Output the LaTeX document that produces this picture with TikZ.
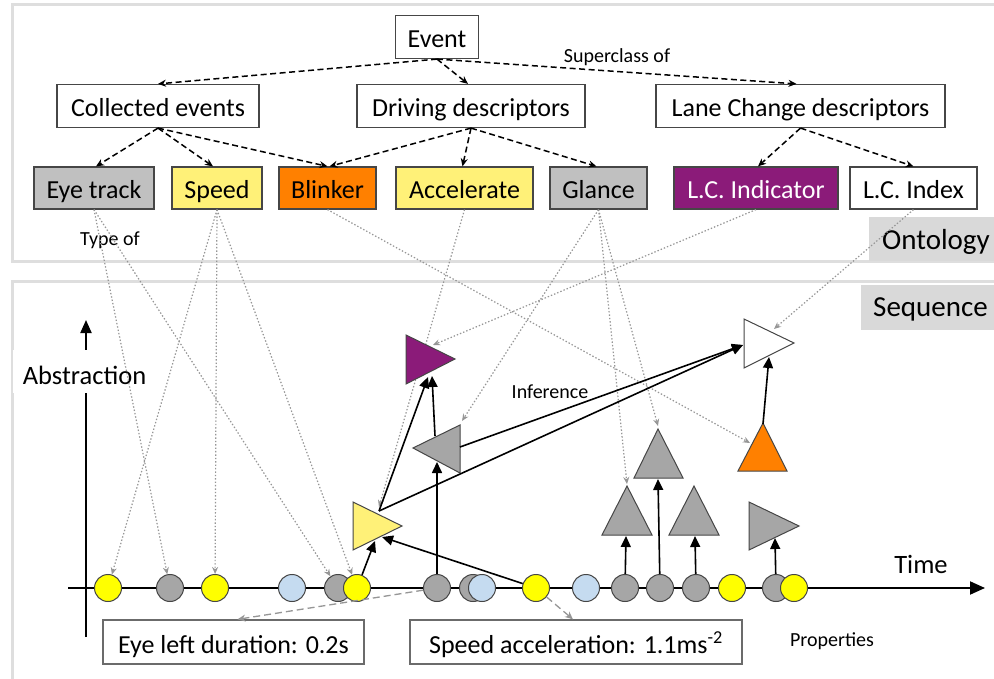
\documentclass[tikz,border=0pt]{standalone}
\usepackage{fontspec}
\setmainfont{Carlito}
\usetikzlibrary{arrows.meta}
\definecolor{boxline}{RGB}{70,70,70}
\definecolor{boxgray}{RGB}{192,192,192}
\definecolor{boxyellow}{RGB}{255,241,120}
\definecolor{myorange}{RGB}{255,128,0}
\definecolor{mypurple}{RGB}{139,27,121}
\definecolor{trigray}{RGB}{166,166,166}
\definecolor{cyellow}{RGB}{255,255,0}
\definecolor{cblue}{RGB}{197,219,240}
\definecolor{dotgray}{RGB}{150,150,150}
\definecolor{panelline}{RGB}{222,222,222}
\definecolor{labelgray}{RGB}{217,217,217}
\begin{document}
\begin{tikzpicture}[x=1pt,y=-1pt,
  box/.style={draw=boxline, line width=1.2pt, inner sep=0pt, minimum height=43pt, text height=22pt, text depth=0pt, font=\fontsize{26}{30}\selectfont},
  propbox/.style={draw=boxline!80, line width=1.3pt, inner sep=0pt, minimum height=44pt, text height=22pt, text depth=0pt, font=\fontsize{26}{30}\selectfont},
  small/.style={font=\fontsize{20}{24}\selectfont, inner sep=0pt},
  big/.style={font=\fontsize{26.5}{30}\selectfont, inner sep=0pt},
  panelbg/.style={fill=labelgray, inner sep=0pt, anchor=north west},
  paneltext/.style={font=\fontsize{29}{32}\selectfont, inner sep=0pt, anchor=east},
  dasharrow/.style={line width=1.5pt, dash pattern=on 6pt off 3.5pt, -{Stealth[length=8pt,width=7pt]}},
  dotarrow/.style={dotgray, line width=1.2pt, dash pattern=on 1.4pt off 2pt, -{Stealth[length=7pt,width=6pt]}},
  proparrow/.style={dotgray, line width=1.3pt, dash pattern=on 7pt off 4pt, -{Stealth[length=8pt,width=7pt]}},
  solidarrow/.style={line width=1.6pt, -{Triangle[length=11pt,width=10pt]}},
  circ/.style={circle, draw=boxline, line width=1pt, minimum size=27pt, inner sep=0pt},
  tri/.style={draw=boxline, line width=1pt, line join=miter},
  panel/.style={draw=panelline, line width=3pt}
]
\useasboundingbox (0,0) rectangle (994,679);
\clip (0,0) rectangle (994,679);
\fill[white] (0,0) rectangle (994,679);

% panels
\draw[panel] (12,5) rectangle (1010,262);
\draw[panel] (12,282) rectangle (1010,700);
\node[panelbg, minimum width=130pt, minimum height=44pt] (ontologybg) at (869,217) {};
\node[paneltext] (ontology) at (990,242) {Ontology};
\node[panelbg, minimum width=140pt, minimum height=45pt] (sequencebg) at (861,285) {};
\node[paneltext] (sequence) at (988,309) {Sequence};

% ontology boxes
\node[box, minimum width=83pt] (event) at (437,37) {Event};
\node[box, minimum width=202pt] (collected) at (158,106) {Collected events};
\node[box, minimum width=228pt] (driving) at (471,106) {Driving descriptors};
\node[box, minimum width=289pt] (lanechange) at (800.5,106) {Lane Change descriptors};
\node[box, minimum width=120pt, minimum height=42pt, fill=boxgray] (eye) at (94,188) {Eye track};
\node[box, minimum width=90pt, minimum height=42pt, fill=boxyellow] (speed) at (217,188) {Speed};
\node[box, minimum width=97pt, minimum height=42pt, fill=myorange] (blinker) at (327.5,188) {Blinker};
\node[box, minimum width=137pt, minimum height=42pt, fill=boxyellow] (accel) at (464.5,188) {Accelerate};
\node[box, minimum width=97pt, minimum height=42pt, fill=boxgray] (glance) at (598.5,188) {Glance};
\node[box, minimum width=164pt, minimum height=42pt, fill=mypurple, text=white] (lcind) at (756,188) {L.C. Indicator};
\node[box, minimum width=127pt, minimum height=42pt] (lcidx) at (913.5,188) {L.C. Index};

\node[small] (superclass) at (617,57) {Superclass of};
\node[small] (typeof) at (110,240) {Type of};

% superclass arrows
\draw[dasharrow] (event.south) -- (collected.north);
\draw[dasharrow] (event.south) -- ([xshift=-3pt]driving.north);
\draw[dasharrow] (event.south) -- ([xshift=-4pt]lanechange.north);
\draw[dasharrow] (collected.south) -- ([xshift=2pt]eye.north);
\draw[dasharrow] (collected.south) -- ([xshift=-4pt]speed.north);
\draw[dasharrow] (collected.south) -- (blinker.north);
\draw[dasharrow] (driving.south) -- ([xshift=2pt]blinker.north);
\draw[dasharrow] (driving.south) -- ([xshift=-2pt]accel.north);
\draw[dasharrow] (driving.south) -- ([xshift=-2pt]glance.north);
\draw[dasharrow] (lanechange.south) -- ([xshift=2pt]lcind.north);
\draw[dasharrow] (lanechange.south) -- (lcidx.north);

% abstraction axis
\draw[line width=2pt] (86,637) -- (86,330);
\draw[line width=2pt, -{Triangle[length=13pt,width=11pt]}] (86,340) -- (86,320);
\node[fill=white, minimum width=134pt, minimum height=43pt, inner sep=0pt] (absbg) at (80,371.5) {};
\node[big] (abstraction) at (84.5,375) {Abstraction};

% time axis
\coordinate (tstart) at (68,588);
\coordinate (tend) at (985,588);
\draw[line width=2pt, -{Triangle[length=15pt,width=13pt]}] (tstart) -- (tend);
\node[big] (time) at (921,564) {Time};

% named coordinates on triangles
\coordinate (orL) at (750,443);
\coordinate (ytT) at (379,507);
\coordinate (glT) at (462,421);
\coordinate (luT) at (627,484);
\coordinate (tallT) at (658,426);
\coordinate (purT) at (433,345);
\coordinate (whtT) at (774,329);
\coordinate (ytB1) at (375,541);
\coordinate (ytB2) at (382,537);
\coordinate (glB) at (437,462);
\coordinate (glTop) at (435,436);
\coordinate (purB1) at (432,376);
\coordinate (ytTop) at (379,511);
\coordinate (purB2) at (428,377);
\coordinate (whtL) at (743,345);
\coordinate (glR) at (460,447);
\coordinate (orTop) at (763,424);
\coordinate (whtB) at (769,357);
\coordinate (luB) at (626,536);
\coordinate (tallB) at (658,479);
\coordinate (ruB) at (695,536);
\coordinate (grB) at (775,538);

% circles
\node[circ, fill=cyellow] (y1) at (108,588) {};
\node[circ, fill=trigray] (g2) at (170,588) {};
\node[circ, fill=cyellow] (y2) at (215,588) {};
\node[circ, fill=cblue] (b1) at (292,588) {};
\node[circ, fill=trigray] (g3) at (338,588) {};
\node[circ, fill=cyellow] (y3) at (357,588) {};
\node[circ, fill=trigray] (g4) at (437,588) {};
\node[circ, fill=trigray] (g5) at (473,588) {};
\node[circ, fill=cblue] (b2) at (482,588) {};
\node[circ, fill=cyellow] (y4) at (536,588) {};
\node[circ, fill=cblue] (b3) at (586,588) {};
\node[circ, fill=trigray] (g6) at (625,588) {};
\node[circ, fill=trigray] (g7) at (660,588) {};
\node[circ, fill=trigray] (g8) at (696,588) {};
\node[circ, fill=cyellow] (y5) at (732,588) {};
\node[circ, fill=trigray] (g9) at (776,588) {};
\node[circ, fill=cyellow] (y6) at (794,588) {};

% type-of dotted arrows
\draw[dotarrow] (eye.south) -- (g2);
\draw[dotarrow] (eye.south) -- (g3);
\draw[dotarrow] (speed.south) -- (y1);
\draw[dotarrow] (speed.south) -- (y2);
\draw[dotarrow] (speed.south) -- (y3);
\draw[dotarrow] (blinker.south) -- (orL);
\draw[dotarrow] (accel.south) -- (ytT);
\draw[dotarrow] (glance.south) -- (glT);
\draw[dotarrow] (glance.south) -- (luT);
\draw[dotarrow] (glance.south) -- (tallT);
\draw[dotarrow] (lcind.south) -- (purT);
\draw[dotarrow] (lcidx.south) -- (whtT);

% triangles
\draw[tri, fill=mypurple] (406,335) -- (455,359) -- (406,384) -- cycle;
\draw[tri, fill=trigray] (460,425) -- (413,448) -- (460,473) -- cycle;
\draw[tri, fill=boxyellow] (353,502) -- (402,526) -- (353,550) -- cycle;
\draw[tri, fill=white] (744,319) -- (794,343) -- (744,368) -- cycle;
\draw[tri, fill=myorange] (763,423) -- (787,471) -- (738,471) -- cycle;
\draw[tri, fill=trigray] (658,429) -- (683,478) -- (634,478) -- cycle;
\draw[tri, fill=trigray] (627,486) -- (652,535) -- (602,535) -- cycle;
\draw[tri, fill=trigray] (694,486) -- (719,535) -- (669,535) -- cycle;
\draw[tri, fill=trigray] (749,502) -- (799,526) -- (749,550) -- cycle;

% inference arrows
\draw[solidarrow] (y3) -- (ytB1);
\draw[solidarrow] (y4) -- (ytB2);
\draw[solidarrow] (g4) -- (glB);
\draw[solidarrow] (glTop) -- (purB1);
\draw[solidarrow] (ytTop) -- (purB2);
\draw[solidarrow] (ytTop) -- (whtL);
\draw[solidarrow] (glR) -- (whtL);
\draw[solidarrow] (orTop) -- (whtB);
\draw[solidarrow] (g6) -- (luB);
\draw[solidarrow] (g7) -- (tallB);
\draw[solidarrow] (g8) -- (ruB);
\draw[solidarrow] (g9) -- (grB);
\node[small] (inference) at (550,392) {Inference};

% properties
\node[propbox, minimum width=261pt] (eyeprop) at (233.5,642) {Eye left duration: 0.2s};
\node[propbox, minimum width=332pt] (spdprop) at (576,642) {Speed acceleration: 1.1ms\textsuperscript{-2}};
\node[small] (properties) at (832,641) {Properties};
\draw[proparrow] (g4) -- ([xshift=4pt]eyeprop.north);
\draw[proparrow] (y4) -- ([xshift=-3pt]spdprop.north);
\end{tikzpicture}
\end{document}
